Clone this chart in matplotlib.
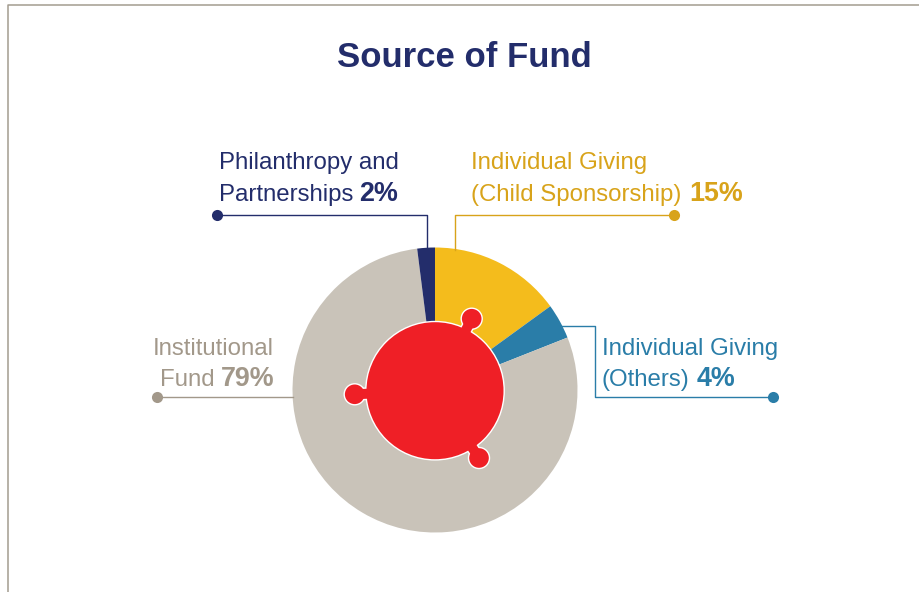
import numpy as np
import matplotlib
matplotlib.use("Agg")
import matplotlib.pyplot as plt
from matplotlib.patches import Circle

plt.rcParams['font.family'] = ['Liberation Sans', 'DejaVu Sans']

# slices, clockwise from the top
fontes = ["Individual Giving (Child Sponsorship)", "Individual Giving (Others)",
          "Institutional Fund", "Philanthropy and Partnerships"]
valores = [15, 4, 79, 2]
cores = ['#F4BC1C', '#2A7DA8', '#C9C3B9', '#232D6B']

W, H = 920, 592
fig = plt.figure(figsize=(W / 100, H / 100), dpi=100)
ax = fig.add_axes([0, 0, 1, 1])

# y in image pixels, measured from the top
def py(y):
    return H - y

ax.pie(valores, colors=cores, startangle=90, counterclock=False,
       center=(435, py(390)), radius=142.5)
ax.set_xlim(0, W)
ax.set_ylim(0, H)
ax.axis('off')

# frame (top and left only)
ax.plot([8, 8, W], [0, py(5), py(5)], color='#A39C90', lw=1.1, clip_on=False)

# red centre with three knobs
cx, cy, r = 435, 390.7, 68.5
knobs = [(471.7, 318.7), (354.7, 394.3), (479, 458)]
RED = '#EF1F26'
for bw, col, z in [(1.4, 'white', 3), (0, RED, 4)]:
    ax.add_patch(Circle((cx, py(cy)), r + bw, fc=col, ec='none', zorder=z))
    for kx, ky in knobs:
        ax.add_patch(Circle((kx, py(ky)), 9.8 + bw, fc=col, ec='none', zorder=z))
        d = np.array([cx - kx, cy - ky])
        d = d / np.hypot(*d)
        ax.plot([kx, kx + d[0] * 20], [py(ky), py(ky + d[1] * 20)], color=col,
                lw=(10 + 2 * bw) * 0.72, solid_capstyle='butt', zorder=z)

# leader lines
def leader(xs, ys, cor):
    ax.plot(xs, [py(y) for y in ys], color=cor, lw=1.0, zorder=2)
    ax.plot(xs[0], py(ys[0]), 'o', color=cor, ms=8, mec='none', zorder=2)

NAVY = '#232D6B'
GOLD = '#D8A31A'
BLUE = '#2A7DA8'
TAUPE = '#A2988A'
leader([217, 427, 427], [215, 215, 248], NAVY)
leader([674, 455, 455], [215, 215, 250], GOLD)
leader([773, 595, 595, 562], [397, 397, 326, 326], BLUE)
leader([157, 293], [397, 397], TAUPE)

ax.text(464, py(57), "Source of Fund", color=NAVY, fontsize=25, fontweight='bold',
        ha='center', va='center')

FS = 17.3
def rotulo(x, y, txt, cor, bold=False):
    ax.text(x, py(y), txt, color=cor, fontsize=FS if not bold else 19.4,
            fontweight='bold' if bold else 'normal', ha='left', va='baseline')

rotulo(219, 169, "Philanthropy and", NAVY)
rotulo(219, 201, "Partnerships", NAVY)
rotulo(359, 201, "2%", NAVY, True)
rotulo(471, 169, "Individual Giving", GOLD)
rotulo(471, 201, "(Child Sponsorship)", GOLD)
rotulo(689, 201, "15%", GOLD, True)
rotulo(602, 355, "Individual Giving", BLUE)
rotulo(602, 386, "(Others)", BLUE)
rotulo(697, 386, "4%", BLUE, True)
rotulo(153, 355, "Institutional", TAUPE)
rotulo(160, 386, "Fund", TAUPE)
rotulo(221, 386, "79%", TAUPE, True)

fig.savefig("out.png", dpi=100)
